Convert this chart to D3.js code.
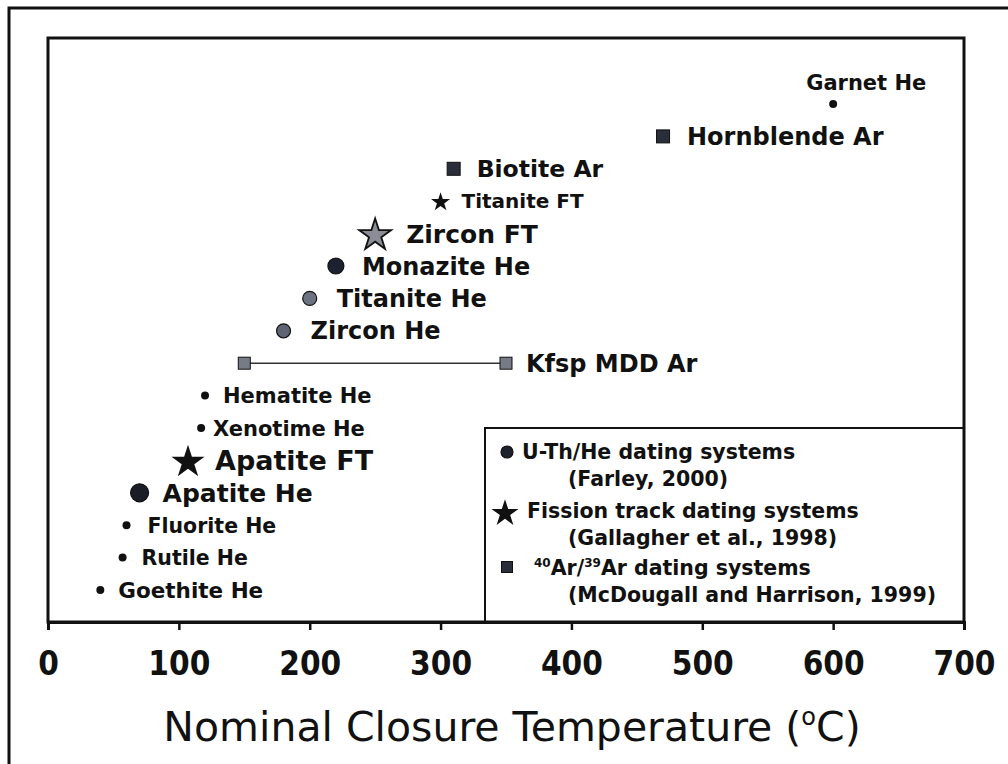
<!DOCTYPE html>
<meta charset="utf-8">
<head>
  <style>
    body {margin: 0; background-color: #ffffff;}
    text {fill: #111111;}
  </style>
  <title></title>
</head>
<body>
<script src="https://d3js.org/d3.v7.min.js"></script>
<script>

// data, top of plot to bottom
const minerals = ["Garnet He", "Hornblende Ar", "Biotite Ar", "Titanite FT", "Zircon FT",
  "Monazite He", "Titanite He", "Zircon He", "Kfsp MDD Ar", "Hematite He", "Xenotime He",
  "Apatite FT", "Apatite He", "Fluorite He", "Rutile He", "Goethite He"];
const systems = ["He", "Ar", "Ar", "FT", "FT", "He", "He", "He", "Ar", "He", "He",
  "FT", "He", "He", "He", "He"];
const closureTemps = [600, 470, 310, 300, 250, 220, 200, 180, 150, 120, 117, 107, 70, 60, 57, 40];
const kfspRange = [150, 350];
const xTicks = [0, 100, 200, 300, 400, 500, 600, 700];
const legendLines = [
  ["He", "U-Th/He dating systems", "(Farley, 2000)"],
  ["FT", "Fission track dating systems", "(Gallagher et al., 1998)"],
  ["Ar", "40Ar/39Ar dating systems", "(McDougall and Harrison, 1999)"]
];

// look of each marker / label (not data)
const look = {
  "Garnet He":     {r: 4,   fs: 21,   fill: "#111", above: true},
  "Hornblende Ar": {r: 13,  fs: 24,   fill: "#2a2d3a", dx: 24},
  "Biotite Ar":    {r: 13,  fs: 23.5, fill: "#2a2d3a", dx: 23},
  "Titanite FT":   {r: 19,  fs: 20,   fill: "#111", dx: 21},
  "Zircon FT":     {r: 32,  fs: 25,   fill: "#8a8d96", dx: 31},
  "Monazite He":   {r: 8,   fs: 24,   fill: "#1e2130", dx: 26},
  "Titanite He":   {r: 7,   fs: 24,   fill: "#6d7282", dx: 27},
  "Zircon He":     {r: 7,   fs: 24,   fill: "#5e6474", dx: 27},
  "Kfsp MDD Ar":   {r: 12,  fs: 24,   fill: "#777b85", dx: 20},
  "Hematite He":   {r: 4,   fs: 21,   fill: "#111", dx: 18},
  "Xenotime He":   {r: 4,   fs: 21,   fill: "#111", dx: 12},
  "Apatite FT":    {r: 33,  fs: 27,   fill: "#111", dx: 27},
  "Apatite He":    {r: 9,   fs: 25,   fill: "#1a1c26", dx: 23},
  "Fluorite He":   {r: 4,   fs: 20.5, fill: "#111", dx: 21},
  "Rutile He":     {r: 4,   fs: 20.5, fill: "#111", dx: 19},
  "Goethite He":   {r: 4,   fs: 21.5, fill: "#111", dx: 18}
};

const width = 1008, height = 764;
const box = {left: 48, top: 38, right: 964, bottom: 622};
const labelFont = "'DejaVu Sans', sans-serif";

const svg = d3.select("body").append("svg")
  .attr("width", width)
  .attr("height", height);

// outer frame (runs off right and bottom)
svg.append("rect")
  .attr("x", 9).attr("y", 8)
  .attr("width", 1100).attr("height", 900)
  .attr("fill", "none").attr("stroke", "#111").attr("stroke-width", 3);

// inner plot frame
svg.append("rect")
  .attr("x", box.left).attr("y", box.top)
  .attr("width", box.right - box.left).attr("height", box.bottom - box.top)
  .attr("fill", "none").attr("stroke", "#111").attr("stroke-width", 3);

const x = d3.scaleLinear().domain([0, 700]).range([box.left, box.right]);
const y = d3.scalePoint().domain(minerals).range([104, 590]);

// x axis
const axis = svg.append("g")
  .attr("transform", "translate(0," + box.bottom + ")")
  .call(d3.axisBottom(x).tickValues(xTicks).tickSize(8).tickPadding(22));
axis.select(".domain").attr("stroke-width", 3).attr("stroke", "#111");
axis.selectAll(".tick line").attr("stroke-width", 2.5).attr("stroke", "#111");
axis.selectAll(".tick text")
  .style("font-family", "'DejaVu Sans Condensed', 'DejaVu Sans', sans-serif")
  .style("font-weight", "bold")
  .style("font-size", "33px")
  .attr("fill", "#111");

const title = svg.append("text")
  .attr("x", 512).attr("y", 741)
  .attr("text-anchor", "middle")
  .style("font-family", labelFont)
  .style("font-size", "41px")
  .text("Nominal Closure Temperature (");
title.append("tspan").attr("dy", -16).style("font-size", "24px").text("o");
title.append("tspan").attr("dy", 16).text("C)");

function drawMarker(g, sys, cx, cy, r, fill) {
  if (sys === "He") {
    g.append("circle").attr("cx", cx).attr("cy", cy).attr("r", r).attr("fill", fill)
      .attr("stroke", "#111").attr("stroke-width", r > 5 ? 1.2 : 0);
  } else if (sys === "Ar") {
    g.append("rect").attr("x", cx - r / 2).attr("y", cy - r / 2)
      .attr("width", r).attr("height", r).attr("fill", fill)
      .attr("stroke", "#111").attr("stroke-width", 1);
  } else {
    // r is the star's outer width; d3 star: outer radius = sqrt(size * 0.89)
    const R = r / 1.9;
    const area = R * R / 0.8908;
    g.append("path")
      .attr("d", d3.symbol().type(d3.symbolStar).size(area)())
      .attr("transform", "translate(" + cx + "," + (cy + R * 0.1) + ")")
      .attr("fill", fill).attr("stroke", "#111").attr("stroke-width", fill === "#111" ? 0 : 1.8);
  }
}

// Kfsp range line
svg.append("line")
  .attr("x1", x(kfspRange[0])).attr("x2", x(kfspRange[1]))
  .attr("y1", y("Kfsp MDD Ar")).attr("y2", y("Kfsp MDD Ar"))
  .attr("stroke", "#333").attr("stroke-width", 1.5);

const pts = svg.append("g");
minerals.forEach((m, i) => {
  const s = look[m];
  const cx = x(closureTemps[i]), cy = y(m);
  if (m === "Kfsp MDD Ar") {
    drawMarker(pts, "Ar", x(kfspRange[0]), cy, s.r, s.fill);
    drawMarker(pts, "Ar", x(kfspRange[1]), cy, s.r, s.fill);
    pts.append("text")
      .attr("x", x(kfspRange[1]) + s.dx).attr("y", cy)
      .attr("dy", "0.36em")
      .style("font-family", labelFont).style("font-weight", "bold")
      .style("font-size", s.fs + "px")
      .text(m);
    return;
  }
  drawMarker(pts, systems[i], cx, cy, s.r, s.fill);
  const t = pts.append("text")
    .style("font-family", labelFont).style("font-weight", "bold")
    .style("font-size", s.fs + "px")
    .text(m);
  if (s.above) {
    t.attr("x", cx - 27).attr("y", cy - 14);
  } else {
    t.attr("x", cx + s.dx).attr("y", cy).attr("dy", "0.36em");
  }
});

// legend box
const lg = svg.append("g");
lg.append("path")
  .attr("d", "M485," + box.bottom + "V428H" + box.right)
  .attr("fill", "none").attr("stroke", "#111").attr("stroke-width", 2);

const legendMarks = {He: [507, 452, 6, "#1e2130"], FT: [505, 512, 27, "#111"], Ar: [507, 567, 11, "#2a2d3a"]};
const legendRows = [459, 518, 575];
const legendFs = "20.5px";
legendLines.forEach((d, i) => {
  const mk = legendMarks[d[0]];
  drawMarker(lg, d[0], mk[0], mk[1], mk[2], mk[3]);
  const t = lg.append("text")
    .attr("x", i === 2 ? 534 : (i === 1 ? 527 : 522)).attr("y", legendRows[i])
    .style("font-family", labelFont).style("font-weight", "bold").style("font-size", legendFs);
  if (d[0] === "Ar") {
    t.append("tspan").attr("dy", -8).style("font-size", "12px").text("40");
    t.append("tspan").attr("dy", 8).text("Ar/");
    t.append("tspan").attr("dy", -8).style("font-size", "12px").text("39");
    t.append("tspan").attr("dy", 8).text("Ar dating systems");
  } else {
    t.text(d[1]);
  }
  lg.append("text")
    .attr("x", 568).attr("y", legendRows[i] + 27)
    .style("font-family", labelFont).style("font-weight", "bold").style("font-size", legendFs)
    .text(d[2]);
});

</script>
</body>
</html>
